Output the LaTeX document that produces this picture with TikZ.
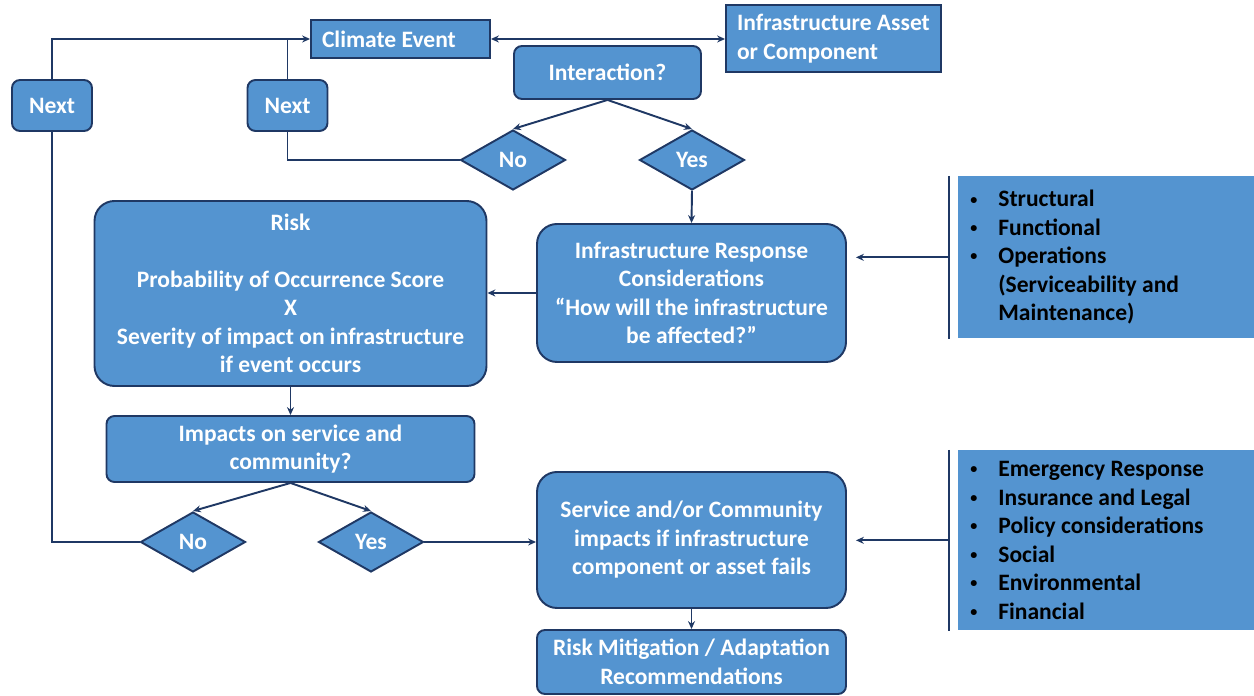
\documentclass[tikz,border=0pt]{standalone}
\usepackage{fontspec}
\setmainfont{Carlito}
\usepackage{xcolor}
\definecolor{flowblue}{RGB}{84, 148, 208}
\definecolor{flownavy}{RGB}{31, 56, 100}
\usetikzlibrary{arrows.meta, shapes.geometric, calc}
\newcommand{\lbul}{\makebox[0.56cm][l]{\raisebox{0.25ex}{\scalebox{0.6}{\textbullet}}}}
\newcommand{\lind}{\hspace*{0.56cm}}

\begin{document}
\begin{tikzpicture}[>={Stealth[length=4.5pt, width=4pt]},
    font=\fontsize{13.4}{16.2}\selectfont\bfseries,
    box/.style={draw=flownavy, fill=flowblue, line width=1.1pt, text=white,
        align=center, inner sep=0pt},
    bigbox/.style={box, rounded corners=0.4cm},
    smallbox/.style={box, rounded corners=0.16cm},
    plainbox/.style={box, align=flush left, inner xsep=0.22cm},
    choice/.style={box, diamond, aspect=1.7, minimum width=2.1cm, minimum height=1.2cm},
    listbox/.style={fill=flowblue, text=black, align=flush left, inner xsep=0.24cm,
        inner ysep=0pt, anchor=north west},
    link/.style={draw=flownavy, line width=1.1pt}]

\useasboundingbox (0, 0) rectangle (25.08, 13.92);

% =====================================================
% PARTE SUPERIOR: EVENTO E INTERACCION
% =====================================================

% --- Evento y activo ---
\node[plainbox, minimum width=3.58cm, minimum height=0.76cm, text width=3.14cm]
    (climate) at (8.01, 13.14) {Climate Event};
\node[plainbox, minimum width=4.3cm, minimum height=1.34cm, text width=3.86cm]
    (asset) at (16.67, 13.15) {Infrastructure Asset\\or Component};
\node[smallbox, minimum width=3.74cm, minimum height=1.06cm]
    (interact) at (12.15, 12.47) {Interaction?};

% --- Decisiones ---
\node[choice] (no1) at (10.26, 10.72) {No};
\node[choice] (yes1) at (13.84, 10.72) {Yes};

% --- Cajas Next ---
\node[smallbox, minimum width=1.6cm, minimum height=1.02cm] (nextL) at (1.04, 11.81) {Next};
\node[smallbox, minimum width=1.6cm, minimum height=1.02cm] (nextM) at (5.75, 11.81) {Next};

% =====================================================
% PARTE CENTRAL: RESPUESTA Y RIESGO
% =====================================================

\node[bigbox, minimum width=7.84cm, minimum height=3.7cm] (risk) at (5.81, 8.05)
    {Risk\\[16.2pt]Probability of Occurrence Score\\X\\Severity of impact on infrastructure\\if event occurs};
\node[bigbox, minimum width=6.18cm, minimum height=2.76cm] (infra) at (13.83, 8.06)
    {Infrastructure Response\\Considerations\\“How will the infrastructure\\be affected?”};

% --- Lista de respuesta ---
\node[listbox, minimum width=5.92cm, minimum height=3.24cm, text width=5.44cm]
    (respList) at (19.16, 10.4)
    {\lbul Structural\\\lbul Functional\\\lbul Operations\\\lind(Serviceability and\\\lind Maintenance)};

% =====================================================
% PARTE INFERIOR: SERVICIO Y COMUNIDAD
% =====================================================

\node[smallbox, minimum width=7.36cm, minimum height=1.32cm] (impact) at (5.81, 4.94)
    {Impacts on service and\\community?};
\node[choice] (no2) at (3.86, 3.08) {No};
\node[choice] (yes2) at (7.42, 3.08) {Yes};

\node[bigbox, minimum width=6.18cm, minimum height=2.72cm] (service) at (13.83, 3.12)
    {Service and/or Community\\impacts if infrastructure\\component or asset fails};
\node[smallbox, minimum width=6.18cm, minimum height=1.28cm] (mitig) at (13.83, 0.68)
    {Risk Mitigation / Adaptation\\Recommendations};

% --- Lista de servicio ---
\node[listbox, minimum width=5.92cm, minimum height=3.6cm, text width=5.44cm]
    (servList) at (19.16, 4.92)
    {\lbul Emergency Response\\\lbul Insurance and Legal\\\lbul Policy considerations\\\lbul Social\\\lbul Environmental\\\lbul Financial};

% =====================================================
% CONEXIONES
% =====================================================

% --- Arriba ---
\draw[link, <->] (climate.east) -- (climate.east -| asset.west);
\draw[link, ->] (interact.south) -- (no1.north);
\draw[link, ->] (interact.south) -- (yes1.north);
\draw[link] (no1.west) -| (nextM.south);
\draw[link] (nextM.north) -- (nextM.north |- climate.west);
\draw[link, ->] (nextL.north) |- (climate.west);

% --- Centro ---
\draw[link, ->] (yes1.south) -- (infra.north);
\draw[link, ->] (infra.west) -- (infra.west -| risk.east);
\draw[link, ->] (risk.south) -- (impact.north);

% Corchete de la lista de respuesta
\coordinate (b1top) at ($(respList.north west) + (-0.18, 0)$);
\coordinate (b1bot) at ($(respList.south west) + (-0.18, 0)$);
\coordinate (b1mid) at ($(respList.west) + (-0.18, 0)$);
\draw[link] (b1top) -- (b1bot);
\draw[link, ->, shorten >=0.18cm] (b1mid) -- (b1mid -| infra.east);

% --- Abajo ---
\draw[link, ->] (impact.south) -- (no2.north);
\draw[link, ->] (impact.south) -- (yes2.north);
\draw[link] (no2.west) -| (nextL.south);
\draw[link, ->] (yes2.east) -- (yes2.east -| service.west);
\draw[link, ->] (service.south) -- (mitig.north);

% Corchete de la lista de servicio
\coordinate (b2top) at ($(servList.north west) + (-0.18, 0)$);
\coordinate (b2bot) at ($(servList.south west) + (-0.18, 0)$);
\coordinate (b2mid) at ($(servList.west) + (-0.18, 0)$);
\draw[link] (b2top) -- (b2bot);
\draw[link, ->, shorten >=0.18cm] (b2mid) -- (b2mid -| service.east);

\end{tikzpicture}
\end{document}
